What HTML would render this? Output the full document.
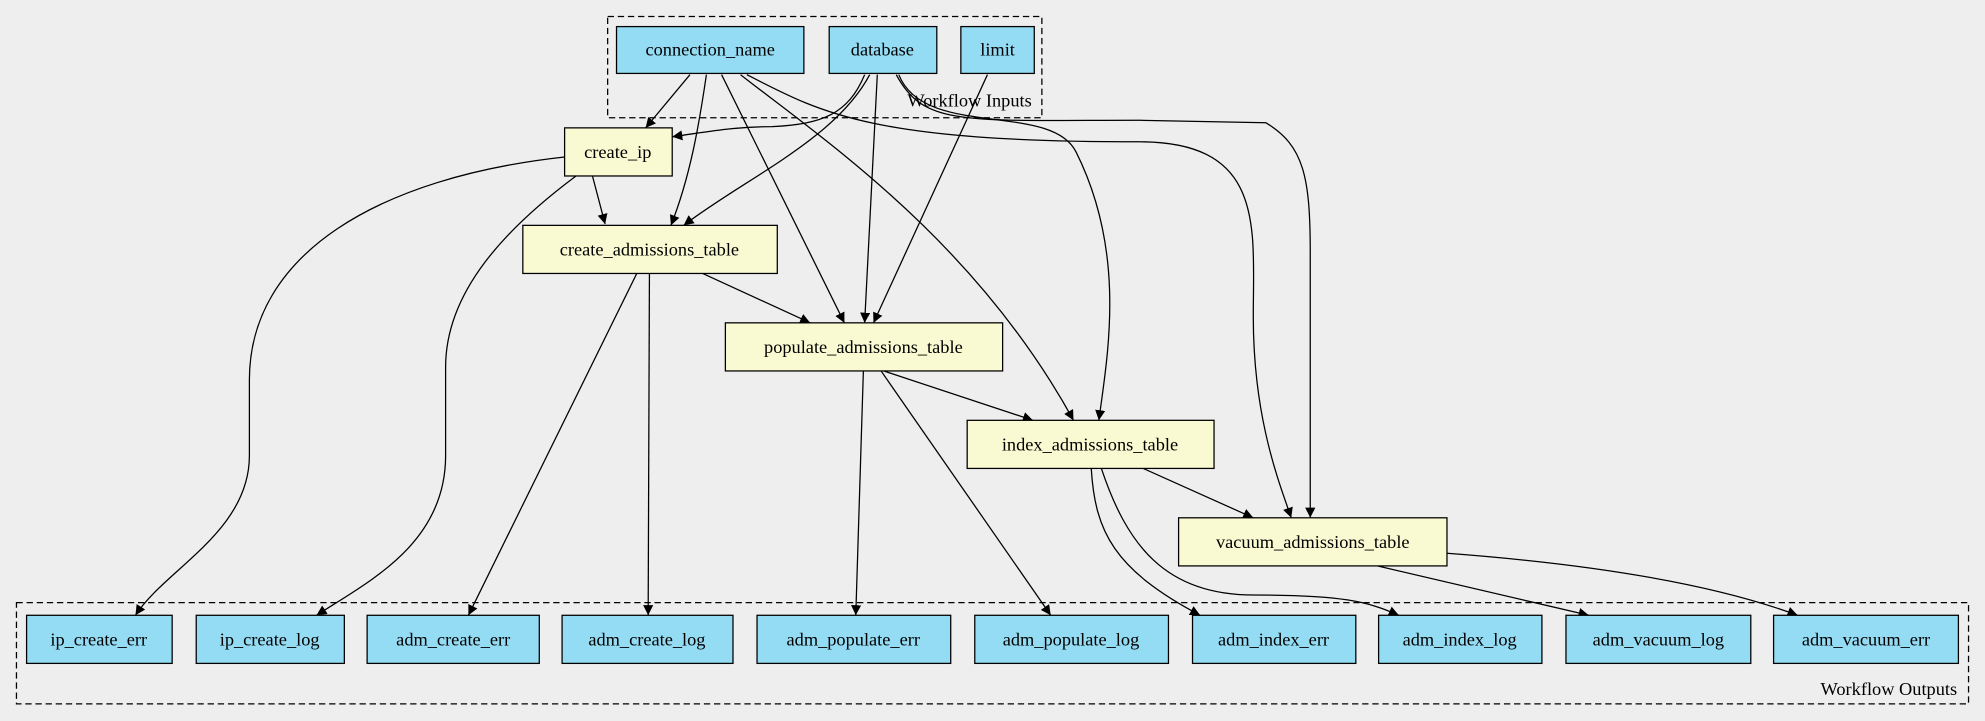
<!DOCTYPE html>
<html><head><meta charset="utf-8"><style>
html,body{margin:0;padding:0;background:#eeeeee;}
svg{display:block;}
</style></head><body>
<svg width="1985" height="721" viewBox="0 0 1568 569.5" preserveAspectRatio="none" xmlns="http://www.w3.org/2000/svg" font-family="'Liberation Serif', 'DejaVu Serif', serif" font-size="14.5">
<defs><marker id="a" viewBox="0 0 10 10" refX="10" refY="5" markerWidth="8" markerHeight="8" markerUnits="userSpaceOnUse" orient="auto"><path d="M0,0L10,5L0,10z" fill="#000"/></marker></defs>
<rect width="1568" height="570" fill="#eeeeee"/>
<rect x="480" y="13" width="343" height="80" fill="none" stroke="#000" stroke-dasharray="5,3"/>
<text x="815" y="84" text-anchor="end" font-family="'Liberation Serif', serif">Workflow Inputs</text>
<rect x="13" y="476" width="1542" height="80" fill="none" stroke="#000" stroke-dasharray="5,3"/>
<text x="1546" y="549" text-anchor="end" font-family="'Liberation Serif', serif">Workflow Outputs</text>
<g fill="none" stroke="#000" stroke-width="1" marker-end="url(#a)">
<path d="M545,59L510,101"/>
<path d="M683,59C670,90 650,98 610,100C580,100 560,104 531,108"/>
<path d="M468,139L478,177"/>
<path d="M558,59C552,100 545,140 530,178"/>
<path d="M687,59C660,110 590,140 540,178"/>
<path d="M570,59L667,255"/>
<path d="M693,59L683,255"/>
<path d="M780,59L690,255"/>
<path d="M585,59C650,110 770,190 848,332"/>
<path d="M590,59C650,90 690,112 900,112C1000,112 990,180 990,250C990,330 1010,380 1020,409"/>
<path d="M710,59C730,110 830,80 850,120C890,200 875,280 868,332"/>
<path d="M708,59C730,100 760,95 900,95L1000,97C1030,115 1035,140 1035,200L1035,409"/>
<path d="M555,216L640,255"/>
<path d="M698,293L816,332"/>
<path d="M903,370L990,409"/>
<path d="M446,124C300,140 197,200 197,300L197,360C197,420 130,450 107,486"/>
<path d="M455,139C400,180 352,230 352,290L352,360C352,430 290,460 250,486"/>
<path d="M503,216L370,486"/>
<path d="M513,216L512,486"/>
<path d="M682,293L676,486"/>
<path d="M696,293L830,486"/>
<path d="M862,370C865,420 880,450 948,486"/>
<path d="M870,370C890,430 920,470 990,470C1060,470 1080,475 1105,486"/>
<path d="M1088,447L1255,486"/>
<path d="M1143,437C1250,445 1350,460 1420,486"/>
</g>
<g stroke="#000" stroke-width="1">
<rect x="487" y="21" width="148" height="37" fill="#94dcf4"/>
<rect x="655" y="21" width="85" height="37" fill="#94dcf4"/>
<rect x="759" y="21" width="58" height="37" fill="#94dcf4"/>
<rect x="446" y="101" width="85" height="38" fill="#fafad2"/>
<rect x="413" y="178" width="201" height="38" fill="#fafad2"/>
<rect x="573" y="255" width="219" height="38" fill="#fafad2"/>
<rect x="764" y="332" width="195" height="38" fill="#fafad2"/>
<rect x="931" y="409" width="212" height="38" fill="#fafad2"/>
<rect x="21" y="486" width="115" height="38" fill="#94dcf4"/>
<rect x="155" y="486" width="117" height="38" fill="#94dcf4"/>
<rect x="290" y="486" width="136" height="38" fill="#94dcf4"/>
<rect x="444" y="486" width="135" height="38" fill="#94dcf4"/>
<rect x="598" y="486" width="153" height="38" fill="#94dcf4"/>
<rect x="770" y="486" width="153" height="38" fill="#94dcf4"/>
<rect x="942" y="486" width="129" height="38" fill="#94dcf4"/>
<rect x="1089" y="486" width="129" height="38" fill="#94dcf4"/>
<rect x="1237" y="486" width="146" height="38" fill="#94dcf4"/>
<rect x="1401" y="486" width="146" height="38" fill="#94dcf4"/>
</g>
<g text-anchor="middle" font-family="'Liberation Serif', serif">
<text x="561" y="44">connection_name</text>
<text x="697" y="44">database</text>
<text x="788" y="44">limit</text>
<text x="488" y="125">create_ip</text>
<text x="513" y="202">create_admissions_table</text>
<text x="682" y="279">populate_admissions_table</text>
<text x="861" y="356">index_admissions_table</text>
<text x="1037" y="433">vacuum_admissions_table</text>
<text x="78" y="510">ip_create_err</text>
<text x="213" y="510">ip_create_log</text>
<text x="358" y="510">adm_create_err</text>
<text x="511" y="510">adm_create_log</text>
<text x="674" y="510">adm_populate_err</text>
<text x="846" y="510">adm_populate_log</text>
<text x="1006" y="510">adm_index_err</text>
<text x="1153" y="510">adm_index_log</text>
<text x="1310" y="510">adm_vacuum_log</text>
<text x="1474" y="510">adm_vacuum_err</text>
</g>
</svg>
</body></html>
